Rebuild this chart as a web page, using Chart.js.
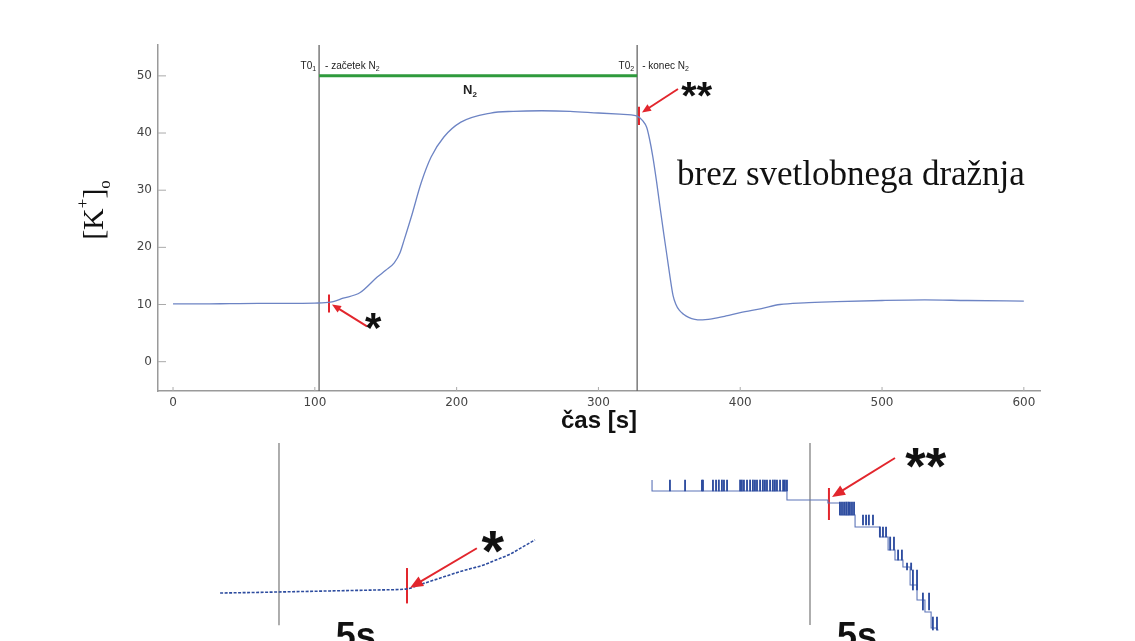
<!DOCTYPE html>
<html lang="sl">
<head>
<meta charset="UTF-8">
<title>[K+]o brez svetlobnega dražnja</title>
<script src="https://cdn.jsdelivr.net/npm/chart.js@4.4.1/dist/chart.umd.min.js"></script>
<style>
  html, body { margin: 0; padding: 0; background: #fff; }
  #wrap { position: relative; width: 1135px; height: 641px; overflow: hidden; }
  canvas { position: absolute; }
</style>
</head>
<body>
<div id="wrap">
  <canvas id="main" width="1135" height="641" style="left:0;top:0"></canvas>
  <canvas id="zoomA" width="340" height="201" style="left:210px;top:440px"></canvas>
  <canvas id="zoomB" width="340" height="201" style="left:640px;top:440px"></canvas>
</div>
<script>
// ---- main trace ----
var times = [0, 20, 40, 60, 80, 100, 111, 120, 132, 144, 150, 156, 160, 163, 168, 175, 182, 191, 203, 224, 240, 260, 280, 300, 315, 327, 331, 334, 336, 338.4, 341, 343.4, 346, 348.4, 350.5, 352.6, 354.5, 357, 360, 364, 368, 372, 380, 390, 400, 415, 428, 445, 468, 500, 530, 560, 600];
var kOut = [10.1, 10.1, 10.15, 10.2, 10.2, 10.25, 10.4, 11.1, 12.1, 14.8, 16.0, 17.3, 19.0, 21.3, 25.3, 31.3, 35.8, 39.3, 41.9, 43.5, 43.8, 43.9, 43.8, 43.5, 43.3, 43.0, 42.2, 41.0, 39.0, 35.8, 31.5, 27.1, 22.5, 18.4, 14.8, 11.6, 10.1, 9.0, 8.3, 7.7, 7.4, 7.3, 7.5, 8.0, 8.6, 9.3, 10.0, 10.3, 10.5, 10.7, 10.8, 10.7, 10.6];
var xTicks = [0, 100, 200, 300, 400, 500, 600];
var yTicks = [0, 10, 20, 30, 40, 50];
var t0 = [103, 327.3];          // T0_1 start of N2, T0_2 end of N2
var n2Level = 50;
var markX = [110, 328.6];       // red marks * and **
var markLo = [8.6, 41.4];
var markHi = [11.75, 44.6];

// ---- zoom at * (time in s from T0_1) ----
var tA = [-2.3, -1.0, 0.0, 1.0, 2.0, 3.0, 4.0, 5.0, 5.5, 6.0, 6.5, 7.0, 7.5, 8.0, 8.5, 9.0, 9.5, 10.0];
var kA = [9.99, 9.995, 10.0, 10.005, 10.01, 10.015, 10.02, 10.03, 10.07, 10.11, 10.15, 10.19, 10.225, 10.26, 10.31, 10.36, 10.43, 10.5];

// ---- zoom at ** (time in s from T0_2) ----
var tB = [-6.17, -0.90, 0.70, 1.17, 1.76, 2.73, 3.05, 3.32, 3.63, 3.91, 4.18, 4.49, 4.73, 4.96, 5.02];
var kB = [42.81, 42.70, 42.61, 42.58, 42.46, 42.34, 42.24, 42.11, 42.01, 41.94, 41.76, 41.61, 41.49, 41.33, 41.31];
var noiseT = [-5.47, -4.88, -4.22, -4.18, -3.79, -3.67, -3.56, -3.44, -3.36, -3.24, -2.73, -2.66, -2.58, -2.46, -2.34, -2.23, -2.15, -2.07, -1.95, -1.84, -1.76, -1.68, -1.56, -1.45, -1.37, -1.29, -1.17, -1.05, -0.98, -0.90,
  1.17, 1.25, 1.33, 1.41, 1.49, 1.56, 1.64, 1.72, 2.07, 2.19, 2.30, 2.46, 2.73, 2.85, 2.97, 3.13, 3.28, 3.44, 3.59, 3.79, 3.95, 4.02, 4.18, 4.41, 4.65, 4.80, 4.96];
var noiseLo = [42.70, 42.70, 42.70, 42.70, 42.70, 42.70, 42.70, 42.70, 42.70, 42.70, 42.70, 42.70, 42.70, 42.70, 42.70, 42.70, 42.70, 42.70, 42.70, 42.70, 42.70, 42.70, 42.70, 42.70, 42.70, 42.70, 42.70, 42.70, 42.70, 42.70,
  42.46, 42.46, 42.46, 42.46, 42.46, 42.46, 42.46, 42.46, 42.36, 42.36, 42.36, 42.36, 42.24, 42.24, 42.24, 42.11, 42.11, 42.01, 42.01, 41.91, 41.91, 41.71, 41.71, 41.51, 41.51, 41.31, 41.31];
var noiseHi = [42.81, 42.81, 42.81, 42.81, 42.81, 42.81, 42.81, 42.81, 42.81, 42.81, 42.81, 42.81, 42.81, 42.81, 42.81, 42.81, 42.81, 42.81, 42.81, 42.81, 42.81, 42.81, 42.81, 42.81, 42.81, 42.81, 42.81, 42.81, 42.81, 42.81,
  42.59, 42.59, 42.59, 42.59, 42.59, 42.59, 42.59, 42.59, 42.46, 42.46, 42.46, 42.46, 42.34, 42.34, 42.34, 42.24, 42.24, 42.11, 42.11, 41.98, 41.98, 41.91, 41.91, 41.68, 41.68, 41.44, 41.44];

var red = '#e2262d';
var blueDark = '#2d4c9f';
var sans = 'Liberation Sans, Arial, sans-serif';
var serif = 'Liberation Serif, Times New Roman, serif';

function pts(xs, ys) { return xs.map(function (x, i) { return { x: x, y: ys[i] }; }); }
function vline(x, lo, hi) { return [{ x: x, y: lo }, { x: x, y: hi }]; }

function seg(ctx, x1, y1, x2, y2) { ctx.beginPath(); ctx.moveTo(x1, y1); ctx.lineTo(x2, y2); ctx.stroke(); }

function arrow(ctx, x1, y1, x2, y2, head) {
  var a = Math.atan2(y2 - y1, x2 - x1), L = head, W = head * 0.42;
  ctx.save();
  ctx.strokeStyle = red; ctx.fillStyle = red; ctx.lineWidth = 2;
  seg(ctx, x1, y1, x2 - L * 0.7 * Math.cos(a), y2 - L * 0.7 * Math.sin(a));
  ctx.beginPath();
  ctx.moveTo(x2, y2);
  ctx.lineTo(x2 - L * Math.cos(a) + W * Math.sin(a), y2 - L * Math.sin(a) - W * Math.cos(a));
  ctx.lineTo(x2 - L * Math.cos(a) - W * Math.sin(a), y2 - L * Math.sin(a) + W * Math.cos(a));
  ctx.closePath(); ctx.fill();
  ctx.restore();
}

// draw a glyph string so its ink box has height h and is centred on (cx, cy)
function glyph(ctx, text, h, cx, cy) {
  ctx.save();
  ctx.font = 'bold 100px ' + sans;
  var m = ctx.measureText(text);
  var size = 100 * h / (m.actualBoundingBoxAscent + m.actualBoundingBoxDescent);
  ctx.font = 'bold ' + size + 'px ' + sans;
  m = ctx.measureText(text);
  var w = m.actualBoundingBoxLeft + m.actualBoundingBoxRight;
  var hh = m.actualBoundingBoxAscent + m.actualBoundingBoxDescent;
  ctx.fillStyle = '#111'; ctx.textAlign = 'left'; ctx.textBaseline = 'alphabetic';
  ctx.fillText(text, cx - w / 2 + m.actualBoundingBoxLeft, cy - hh / 2 + m.actualBoundingBoxAscent);
  ctx.restore();
}

// text runs with sub/superscripts; parts = [[text, font, dy], ...]
function rich(ctx, parts, x, y, align) {
  var total = 0;
  parts.forEach(function (p) { ctx.font = p[1]; total += ctx.measureText(p[0]).width; });
  var cur = align === 'right' ? x - total : align === 'center' ? x - total / 2 : x;
  ctx.textAlign = 'left'; ctx.textBaseline = 'alphabetic';
  parts.forEach(function (p) {
    ctx.font = p[1];
    ctx.fillText(p[0], cur, y + (p[2] || 0));
    cur += ctx.measureText(p[0]).width;
  });
}

// ---------------- main chart ----------------
var xMin = -10.6, xMax = 611.4, yMin = -5.13, yMax = 55.4;

var mainNotes = {
  id: 'mainNotes',
  afterDraw: function (chart) {
    var ctx = chart.ctx, a = chart.chartArea;
    var X = function (v) { return chart.scales.x.getPixelForValue(v); };
    var Y = function (v) { return chart.scales.y.getPixelForValue(v); };
    ctx.save();
    // inward tick marks
    ctx.strokeStyle = '#aaa'; ctx.lineWidth = 1;
    xTicks.forEach(function (v) { seg(ctx, X(v), a.bottom, X(v), a.bottom - 4); });
    yTicks.forEach(function (v) { seg(ctx, a.left, Y(v), a.left + 8, Y(v)); });

    ctx.fillStyle = '#222';
    var small = '10px ' + sans, sub = '7px ' + sans;
    rich(ctx, [['T0', small], ['1', sub, 2]], X(t0[0]) - 3, Y(51.2), 'right');
    rich(ctx, [['- začetek N', small], ['2', sub, 2]], X(t0[0]) + 6, Y(51.2), 'left');
    rich(ctx, [['T0', small], ['2', sub, 2]], X(t0[1]) - 3, Y(51.2), 'right');
    rich(ctx, [['- konec N', small], ['2', sub, 2]], X(t0[1]) + 5, Y(51.2), 'left');
    rich(ctx, [['N', 'bold 13px ' + sans], ['2', 'bold 8px ' + sans, 3]], X(209.4), Y(46.8), 'center');

    ctx.fillStyle = '#111';
    rich(ctx, [['brez svetlobnega dražnja', '35px ' + serif]], X(355.4), Y(30.94), 'left');

    // arrows and asterisks
    arrow(ctx, X(136.8), Y(6.16), X(112.1), Y(10.0), 9);
    arrow(ctx, X(356.1), Y(47.7), X(330.7), Y(43.6), 9);
    glyph(ctx, '*', 16, X(141.4), Y(7.03));
    glyph(ctx, '**', 15, X(369.5), Y(47.7));

    // axis titles
    ctx.fillStyle = '#111';
    rich(ctx, [['čas [s]', 'bold 24px ' + sans]], (a.left + a.right) / 2, 428, 'center');
    ctx.translate(95, 210);
    ctx.rotate(-Math.PI / 2);
    rich(ctx, [['[K', '30px ' + serif], ['+', '17px ' + serif, -15], [']', '30px ' + serif], ['o', '17px ' + serif, 7]], 0, 8, 'center');
    ctx.restore();
  }
};

new Chart(document.getElementById('main'), {
  type: 'line',
  data: {
    datasets: [
      { data: pts(times, kOut), borderColor: '#6d84c4', borderWidth: 1.3, pointRadius: 0, cubicInterpolationMode: 'monotone' },
      { data: vline(markX[0], markLo[0], markHi[0]), borderColor: red, borderWidth: 2, pointRadius: 0 },
      { data: vline(markX[1], markLo[1], markHi[1]), borderColor: red, borderWidth: 2, pointRadius: 0 },
      { data: [{ x: t0[0], y: n2Level }, { x: t0[1], y: n2Level }], borderColor: '#2e9a3c', borderWidth: 3, pointRadius: 0 },
      { data: vline(t0[0], yMin, yMax), borderColor: '#666', borderWidth: 1.3, pointRadius: 0 },
      { data: vline(t0[1], yMin, yMax), borderColor: '#666', borderWidth: 1.3, pointRadius: 0 }
    ]
  },
  options: {
    responsive: false, animation: false, events: [],
    layout: { padding: { left: 98, top: 45, right: 95, bottom: 220 } },
    plugins: { legend: { display: false }, tooltip: { enabled: false } },
    scales: {
      x: {
        type: 'linear', min: xMin, max: xMax, offset: false,
        afterBuildTicks: function (s) { s.ticks = xTicks.map(function (v) { return { value: v }; }); },
        afterFit: function (s) { s.height = 30; },
        grid: { drawOnChartArea: false, drawTicks: false },
        border: { color: '#9a9a9a', width: 1.5 },
        ticks: { padding: 5, color: '#444', maxRotation: 0, font: { family: 'DejaVu Sans', size: 12 } }
      },
      y: {
        type: 'linear', min: yMin, max: yMax,
        afterBuildTicks: function (s) { s.ticks = yTicks.map(function (v) { return { value: v }; }); },
        afterFit: function (s) { s.width = 60; },
        grid: { drawOnChartArea: false, drawTicks: false },
        border: { color: '#9a9a9a', width: 1.5 },
        ticks: { padding: 6, color: '#444', font: { family: 'DejaVu Sans', size: 12 } }
      }
    }
  },
  plugins: [mainNotes]
});

// ---------------- zoom insets ----------------
function insetNotes(o) {
  return {
    id: 'insetNotes',
    afterDraw: function (chart) {
      var ctx = chart.ctx, a = chart.chartArea;
      var X = function (v) { return chart.scales.x.getPixelForValue(v); };
      var Y = function (v) { return chart.scales.y.getPixelForValue(v); };
      arrow(ctx, X(o.from[0]), Y(o.from[1]), X(o.to[0]), Y(o.to[1]), 13);
      glyph(ctx, o.stars, o.starH, X(o.star[0]), Y(o.star[1]));
      ctx.save();
      ctx.fillStyle = '#111';
      rich(ctx, [['5s', 'bold 36px ' + sans]], X(o.label), a.bottom + 7, 'center');
      ctx.restore();
    }
  };
}

function insetScales(x0, x1, y0, y1) {
  return {
    x: { type: 'linear', min: x0, max: x1, display: false, offset: false },
    y: { type: 'linear', min: y0, max: y1, display: false }
  };
}

new Chart(document.getElementById('zoomA'), {
  type: 'line',
  data: {
    datasets: [
      { data: pts(tA, kA), borderColor: blueDark, borderWidth: 1.6, borderDash: [3, 1.5], pointRadius: 0, cubicInterpolationMode: 'monotone' },
      { data: vline(5, 9.89, 10.23), borderColor: red, borderWidth: 2, pointRadius: 0 },
      { data: vline(0, 9.68, 11.43), borderColor: '#777', borderWidth: 1.2, pointRadius: 0 }
    ]
  },
  options: {
    responsive: false, animation: false, events: [],
    plugins: { legend: { display: false }, tooltip: { enabled: false } },
    scales: insetScales(-2.695, 10.586, 9.529, 11.46)
  },
  plugins: [insetNotes({ from: [7.73, 10.42], to: [5.12, 10.04], stars: '*', starH: 22, star: [8.36, 10.48], label: 3.0 })]
});

new Chart(document.getElementById('zoomB'), {
  type: 'line',
  data: {
    datasets: [
      { type: 'bar', data: noiseT.map(function (t, i) { return { x: t, y: [noiseLo[i], noiseHi[i]] }; }), backgroundColor: blueDark, barThickness: 1.2, grouped: false },
      { data: pts(tB, kB), borderColor: '#5c74b8', borderWidth: 1.1, stepped: 'after', pointRadius: 0 },
      { data: vline(0.74, 42.41, 42.73), borderColor: red, borderWidth: 2, pointRadius: 0 },
      { data: vline(0, 41.36, 43.18), borderColor: '#777', borderWidth: 1.2, pointRadius: 0 }
    ]
  },
  options: {
    responsive: false, animation: false, events: [],
    plugins: { legend: { display: false }, tooltip: { enabled: false } },
    scales: insetScales(-6.64, 6.64, 41.2, 43.21)
  },
  plugins: [insetNotes({ from: [3.32, 43.03], to: [0.86, 42.64], stars: '**', starH: 20, star: [4.53, 43.03], label: 1.84 })]
});
</script>
</body>
</html>
